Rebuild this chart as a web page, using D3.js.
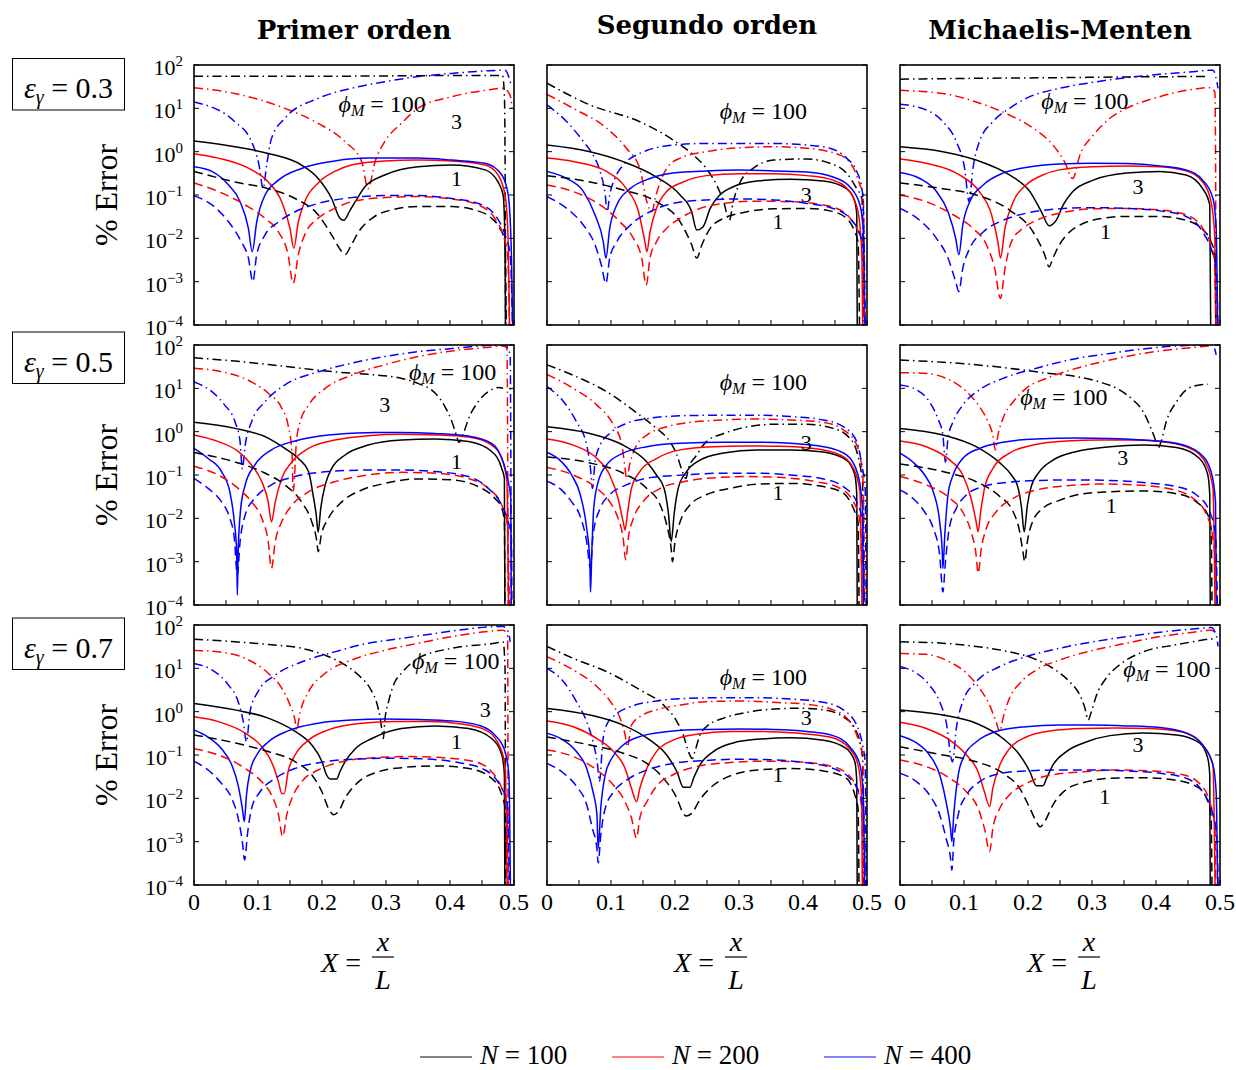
<!DOCTYPE html>
<html>
<head>
<meta charset="utf-8">
<script src="https://cdn.jsdelivr.net/npm/d3@7"></script>
<style>
  body { margin: 0; background: #fff; }
  text { font-family: "Liberation Serif", "Times New Roman", serif; fill: #000; }
</style>
</head>
<body>
<svg id="chart" width="1236" height="1070"></svg>
<script>
// ---- data ----
const colTitles = ["Primer orden", "Segundo orden", "Michaelis-Menten"];
const epsLabels = ["0.3", "0.5", "0.7"];
const nValues = [100, 200, 400];
const phiValues = [1, 3, 100];
const xTickLabels = [0, 0.1, 0.2, 0.3, 0.4, 0.5];
const xTickMarks = [0, 0.05, 0.1, 0.15, 0.2, 0.25, 0.3, 0.35, 0.4, 0.45, 0.5];
const yTickValues = [1e-4, 1e-3, 1e-2, 1e-1, 1, 10, 100];
const yTickExp = ["\u22124", "\u22123", "\u22122", "\u22121", "0", "1", "2"];

// series: [N, phi, points [X, %error]]
const primer03 = [
  [100, 100, [[0,55],[0.1,55],[0.2,55],[0.3,56],[0.4,57],[0.482,57],[0.485,20],[0.486,1],[0.4865,1e-2],[0.487,1e-5]]],
  [200, 100, [[0,30],[0.064,22],[0.142,10],[0.194,4.5],[0.236,1.7],[0.262,0.59],[0.272,0.14],[0.283,0.59],[0.298,1.7],[0.324,4.5],[0.35,10],[0.403,18.6],[0.455,26],[0.483,29],[0.494,20],[0.497,10]]],
  [400, 100, [[0,14],[0.064,4.9],[0.09,1.7],[0.1016,0.49],[0.108,0.14],[0.1135,0.49],[0.121,2.0],[0.142,5.9],[0.194,17],[0.246,29],[0.298,41],[0.35,54],[0.403,64],[0.455,73],[0.486,76],[0.496,32]]],
  [100, 3, [[0,1.76],[0.064,1.3],[0.116,0.91],[0.168,0.49],[0.194,0.24],[0.215,0.083],[0.228,0.029],[0.234,0.026],[0.244,0.045],[0.252,0.07],[0.267,0.155],[0.298,0.29],[0.35,0.45],[0.403,0.49],[0.455,0.38],[0.475,0.2],[0.483,0.1],[0.4859,0.0083],[0.487,1e-5]]],
  [200, 3, [[0,0.9],[0.038,0.71],[0.09,0.38],[0.116,0.2],[0.137,0.07],[0.15,0.017],[0.156,0.0059],[0.163,0.024],[0.173,0.07],[0.194,0.19],[0.22,0.35],[0.246,0.49],[0.298,0.61],[0.35,0.64],[0.403,0.61],[0.455,0.49],[0.475,0.29],[0.486,0.1],[0.491,0.0083],[0.494,1e-5]]],
  [400, 3, [[0,0.45],[0.028,0.35],[0.054,0.17],[0.072,0.07],[0.085,0.017],[0.091,0.0049],[0.098,0.024],[0.111,0.1],[0.132,0.22],[0.168,0.41],[0.22,0.61],[0.272,0.71],[0.35,0.71],[0.403,0.64],[0.455,0.54],[0.481,0.29],[0.491,0.1],[0.496,0.0042],[0.499,1e-5]]],
  [100, 1, [[0,0.35],[0.064,0.2],[0.116,0.14],[0.158,0.083],[0.194,0.035],[0.215,0.012],[0.231,0.0049],[0.236,0.0042],[0.246,0.0071],[0.257,0.014],[0.278,0.029],[0.298,0.041],[0.35,0.054],[0.403,0.054],[0.439,0.045],[0.465,0.029],[0.478,0.017],[0.486,0.0083],[0.4885,1e-5]]],
  [200, 1, [[0,0.19],[0.038,0.12],[0.08,0.059],[0.111,0.029],[0.132,0.014],[0.147,0.0042],[0.155,0.00091],[0.163,0.0042],[0.173,0.012],[0.194,0.029],[0.22,0.049],[0.246,0.07],[0.298,0.087],[0.35,0.092],[0.403,0.081],[0.444,0.059],[0.47,0.029],[0.483,0.012],[0.49,0.0042],[0.494,1e-5]]],
  [400, 1, [[0,0.096],[0.028,0.059],[0.054,0.024],[0.074,0.0083],[0.085,0.0035],[0.092,0.001],[0.098,0.0042],[0.111,0.012],[0.132,0.024],[0.158,0.041],[0.194,0.064],[0.246,0.087],[0.298,0.097],[0.35,0.097],[0.403,0.083],[0.444,0.064],[0.47,0.035],[0.486,0.012],[0.494,0.0042],[0.499,1e-5]]]
];

const segundo03 = [
  [100, 100, [[0,38],[0.067,12],[0.145,4.9],[0.197,1.86],[0.229,0.83],[0.249,0.41],[0.265,0.17],[0.276,0.07],[0.285,0.026],[0.291,0.07],[0.302,0.2],[0.322,0.41],[0.354,0.64],[0.406,0.68],[0.442,0.54],[0.468,0.32],[0.484,0.14],[0.492,0.083],[0.496,1e-5]]],
  [200, 100, [[0,21],[0.041,10],[0.093,3.5],[0.124,1.2],[0.145,0.41],[0.156,0.07],[0.164,0.041],[0.169,0.083],[0.187,0.41],[0.208,0.71],[0.249,1],[0.302,1.23],[0.354,1.3],[0.406,1.2],[0.458,0.83],[0.479,0.41],[0.489,0.17],[0.494,0.1],[0.497,1e-5]]],
  [400, 100, [[0,12],[0.031,4.9],[0.057,1.7],[0.072,0.83],[0.083,0.35],[0.091,0.1],[0.094,0.041],[0.098,0.1],[0.106,0.24],[0.119,0.49],[0.145,0.91],[0.197,1.42],[0.249,1.55],[0.302,1.55],[0.354,1.55],[0.406,1.42],[0.442,1.2],[0.468,0.71],[0.484,0.35],[0.492,0.14],[0.494,0.07],[0.498,1e-5]]],
  [100, 3, [[0,1.42],[0.067,1],[0.119,0.59],[0.171,0.26],[0.208,0.1],[0.226,0.041],[0.234,0.0155],[0.244,0.0186],[0.255,0.049],[0.27,0.1],[0.291,0.155],[0.328,0.21],[0.38,0.23],[0.432,0.21],[0.468,0.14],[0.481,0.07],[0.484,0.035],[0.485,1e-5]]],
  [200, 3, [[0,0.71],[0.041,0.59],[0.093,0.35],[0.124,0.14],[0.143,0.041],[0.153,0.0083],[0.156,0.0049],[0.161,0.014],[0.171,0.049],[0.187,0.12],[0.213,0.2],[0.249,0.28],[0.302,0.31],[0.354,0.31],[0.406,0.28],[0.447,0.22],[0.473,0.12],[0.486,0.041],[0.492,0.0042],[0.494,1e-5]]],
  [400, 3, [[0,0.35],[0.031,0.24],[0.057,0.12],[0.075,0.035],[0.088,0.0083],[0.092,0.0035],[0.098,0.017],[0.109,0.059],[0.13,0.14],[0.161,0.24],[0.197,0.32],[0.249,0.36],[0.302,0.38],[0.354,0.36],[0.406,0.34],[0.447,0.26],[0.473,0.155],[0.489,0.059],[0.494,0.017],[0.497,1e-5]]],
  [100, 1, [[0,0.28],[0.067,0.2],[0.119,0.13],[0.171,0.07],[0.208,0.024],[0.226,0.0071],[0.234,0.0035],[0.242,0.0071],[0.255,0.017],[0.276,0.029],[0.302,0.038],[0.354,0.048],[0.406,0.049],[0.442,0.043],[0.468,0.029],[0.481,0.014],[0.486,0.0083],[0.489,1e-5]]],
  [200, 1, [[0,0.17],[0.041,0.12],[0.083,0.059],[0.114,0.024],[0.135,0.01],[0.148,0.0035],[0.155,0.00083],[0.161,0.0035],[0.171,0.0083],[0.187,0.017],[0.208,0.029],[0.239,0.049],[0.276,0.064],[0.328,0.072],[0.38,0.07],[0.432,0.059],[0.463,0.041],[0.481,0.02],[0.492,0.0083],[0.497,1e-5]]],
  [400, 1, [[0,0.092],[0.031,0.049],[0.057,0.02],[0.075,0.0071],[0.085,0.0024],[0.092,0.00091],[0.098,0.0035],[0.109,0.0083],[0.13,0.02],[0.161,0.041],[0.197,0.064],[0.249,0.077],[0.302,0.081],[0.354,0.077],[0.406,0.064],[0.447,0.049],[0.473,0.029],[0.489,0.012],[0.494,0.0059],[0.498,1e-5]]]
];

const michaelis03 = [
  [100, 100, [[0,47],[0.1,49],[0.249,51],[0.35,53],[0.458,54],[0.481,54]]],
  [200, 100, [[0,26],[0.067,22],[0.119,14],[0.171,7],[0.208,3.5],[0.239,1.42],[0.257,0.59],[0.27,0.24],[0.281,0.83],[0.302,2.4],[0.328,5.9],[0.354,10],[0.406,18.6],[0.458,27.5],[0.484,30],[0.492,24],[0.493,1],[0.494,1e-5]]],
  [400, 100, [[0,12.4],[0.041,9.2],[0.067,4.9],[0.088,1.7],[0.101,0.41],[0.108,0.07],[0.114,0.41],[0.124,1.7],[0.145,4.9],[0.171,10],[0.197,17],[0.249,29],[0.302,40],[0.354,51],[0.406,61],[0.458,70],[0.489,76],[0.497,29]]],
  [100, 3, [[0,1.3],[0.067,1],[0.119,0.64],[0.171,0.29],[0.203,0.12],[0.221,0.041],[0.233,0.0195],[0.244,0.026],[0.255,0.059],[0.27,0.12],[0.302,0.22],[0.354,0.32],[0.406,0.35],[0.447,0.29],[0.473,0.14],[0.484,0.059],[0.486,1e-5]]],
  [200, 3, [[0,0.68],[0.041,0.54],[0.093,0.29],[0.124,0.12],[0.143,0.035],[0.153,0.0083],[0.157,0.0035],[0.164,0.017],[0.177,0.07],[0.197,0.17],[0.223,0.29],[0.249,0.38],[0.302,0.45],[0.354,0.47],[0.406,0.45],[0.447,0.36],[0.473,0.2],[0.486,0.07],[0.492,0.01],[0.494,1e-5]]],
  [400, 3, [[0,0.33],[0.031,0.24],[0.057,0.12],[0.075,0.041],[0.087,0.01],[0.092,0.0042],[0.098,0.02],[0.109,0.07],[0.13,0.17],[0.161,0.32],[0.197,0.43],[0.249,0.52],[0.302,0.54],[0.354,0.53],[0.406,0.47],[0.447,0.38],[0.473,0.22],[0.489,0.083],[0.494,0.017],[0.497,1e-5]]],
  [100, 1, [[0,0.19],[0.067,0.14],[0.119,0.1],[0.171,0.045],[0.208,0.014],[0.226,0.0042],[0.233,0.0022],[0.239,0.0035],[0.249,0.0071],[0.265,0.014],[0.286,0.022],[0.317,0.029],[0.354,0.032],[0.406,0.032],[0.447,0.026],[0.473,0.016],[0.486,0.0083],[0.492,0.0042],[0.494,1e-5]]],
  [200, 1, [[0,0.1],[0.041,0.07],[0.083,0.035],[0.114,0.017],[0.135,0.0071],[0.148,0.002],[0.157,0.00041],[0.164,0.002],[0.174,0.0083],[0.192,0.017],[0.213,0.026],[0.249,0.038],[0.302,0.048],[0.354,0.049],[0.406,0.045],[0.447,0.035],[0.473,0.017],[0.489,0.0049],[0.492,0.002],[0.495,1e-5]]],
  [400, 1, [[0,0.049],[0.031,0.026],[0.057,0.01],[0.075,0.0035],[0.087,0.001],[0.092,0.00059],[0.098,0.002],[0.109,0.0059],[0.13,0.014],[0.161,0.026],[0.197,0.038],[0.249,0.048],[0.302,0.051],[0.354,0.049],[0.406,0.043],[0.447,0.032],[0.473,0.014],[0.489,0.0042],[0.494,0.002],[0.498,1e-5]]]
];

const primer05 = [
  [100, 100, [[0,51],[0.064,42.5],[0.116,35.5],[0.168,29],[0.22,24],[0.272,21],[0.324,17],[0.35,13],[0.377,7.7],[0.392,3.8],[0.403,1.7],[0.41,0.83],[0.414,0.56],[0.421,0.91],[0.429,2],[0.444,4.9],[0.46,8.4],[0.476,10.4],[0.483,10]]],
  [200, 100, [[0,29],[0.038,25],[0.09,14],[0.116,7.7],[0.137,3.5],[0.147,1.42],[0.153,0.35],[0.155,0.041],[0.16,0.59],[0.166,1.7],[0.179,4.1],[0.205,10],[0.246,20],[0.298,35],[0.35,54],[0.403,73],[0.455,87],[0.483,95],[0.489,83],[0.49,1],[0.491,1e-5]]],
  [400, 100, [[0,14],[0.028,8.4],[0.048,4.1],[0.064,1.7],[0.072,0.59],[0.0755,0.14],[0.08,0.49],[0.09,1.7],[0.111,4.9],[0.142,12],[0.194,24],[0.246,38],[0.298,54],[0.35,70],[0.403,83],[0.455,97],[0.486,100],[0.494,59],[0.496,1e-5]]],
  [100, 3, [[0,1.64],[0.064,1.19],[0.116,0.71],[0.142,0.41],[0.163,0.24],[0.179,0.12],[0.186,0.035],[0.191,0.012],[0.194,0.0048],[0.198,0.017],[0.205,0.059],[0.215,0.14],[0.236,0.29],[0.272,0.49],[0.324,0.64],[0.377,0.68],[0.429,0.59],[0.465,0.35],[0.481,0.14],[0.485,0.083],[0.486,1e-5]]],
  [200, 3, [[0,0.84],[0.038,0.59],[0.069,0.35],[0.09,0.17],[0.106,0.07],[0.116,0.024],[0.121,0.0083],[0.127,0.024],[0.137,0.083],[0.153,0.2],[0.179,0.41],[0.22,0.64],[0.272,0.81],[0.324,0.87],[0.377,0.84],[0.429,0.75],[0.465,0.49],[0.481,0.24],[0.489,0.07],[0.492,1e-5]]],
  [400, 3, [[0,0.41],[0.022,0.24],[0.043,0.12],[0.056,0.041],[0.063,0.0083],[0.0667,0.0017],[0.0677,0.00017],[0.069,0.0017],[0.073,0.017],[0.08,0.059],[0.095,0.17],[0.121,0.38],[0.158,0.61],[0.21,0.84],[0.272,0.95],[0.324,0.96],[0.377,0.91],[0.429,0.79],[0.465,0.54],[0.483,0.2],[0.491,0.07],[0.495,0.029],[0.496,1e-5]]],
  [100, 1, [[0,0.33],[0.064,0.2],[0.106,0.12],[0.142,0.059],[0.168,0.024],[0.184,0.0083],[0.192,0.0029],[0.194,0.0017],[0.199,0.0042],[0.21,0.01],[0.231,0.024],[0.262,0.045],[0.298,0.064],[0.35,0.081],[0.403,0.077],[0.444,0.054],[0.47,0.029],[0.481,0.017],[0.485,0.0083],[0.486,1e-5]]],
  [200, 1, [[0,0.16],[0.038,0.1],[0.069,0.049],[0.09,0.024],[0.106,0.01],[0.116,0.0029],[0.121,0.0007],[0.127,0.0029],[0.137,0.0083],[0.153,0.02],[0.179,0.041],[0.22,0.07],[0.272,0.1],[0.324,0.115],[0.377,0.11],[0.429,0.083],[0.46,0.049],[0.481,0.02],[0.489,0.0083],[0.494,1e-5]]],
  [400, 1, [[0,0.084],[0.022,0.049],[0.043,0.024],[0.056,0.01],[0.063,0.0035],[0.0677,0.00049],[0.072,0.0029],[0.08,0.012],[0.095,0.029],[0.121,0.059],[0.158,0.092],[0.21,0.12],[0.272,0.13],[0.324,0.13],[0.377,0.12],[0.429,0.092],[0.46,0.049],[0.481,0.02],[0.491,0.0083],[0.496,0.0035],[0.497,1e-5]]]
];

const segundo05 = [
  [100, 100, [[0,35],[0.041,20],[0.093,8.4],[0.145,2.4],[0.171,1.19],[0.192,0.59],[0.203,0.29],[0.21,0.14],[0.217,0.083],[0.221,0.14],[0.234,0.29],[0.249,0.59],[0.276,0.91],[0.302,1.19],[0.354,1.48],[0.406,1.48],[0.447,1.19],[0.473,0.71],[0.484,0.35],[0.49,0.14],[0.493,0.07],[0.495,1e-5]]],
  [200, 100, [[0,21],[0.041,10],[0.078,4.1],[0.104,1.42],[0.117,0.49],[0.122,0.14],[0.124,0.083],[0.13,0.2],[0.14,0.49],[0.156,0.83],[0.187,1.3],[0.223,1.64],[0.276,1.86],[0.328,1.96],[0.38,1.86],[0.432,1.64],[0.463,1.1],[0.484,0.49],[0.492,0.14],[0.494,0.07],[0.497,1e-5]]],
  [400, 100, [[0,11],[0.026,4.9],[0.046,1.7],[0.062,0.49],[0.068,0.14],[0.071,0.049],[0.075,0.2],[0.083,0.49],[0.098,0.91],[0.124,1.55],[0.161,2.04],[0.213,2.34],[0.276,2.4],[0.328,2.4],[0.38,2.24],[0.432,1.86],[0.463,1.3],[0.484,0.59],[0.493,0.14],[0.497,0.059],[0.499,1e-5]]],
  [100, 3, [[0,1.3],[0.067,0.91],[0.119,0.49],[0.156,0.2],[0.171,0.1],[0.183,0.049],[0.19,0.012],[0.194,0.0029],[0.199,0.014],[0.205,0.049],[0.218,0.12],[0.239,0.22],[0.276,0.32],[0.328,0.38],[0.38,0.38],[0.432,0.34],[0.468,0.22],[0.481,0.1],[0.484,0.035],[0.485,1e-5]]],
  [200, 3, [[0,0.68],[0.041,0.49],[0.078,0.24],[0.098,0.1],[0.111,0.029],[0.119,0.0083],[0.122,0.0054],[0.126,0.014],[0.132,0.049],[0.145,0.12],[0.171,0.24],[0.208,0.38],[0.26,0.45],[0.312,0.47],[0.364,0.46],[0.416,0.41],[0.458,0.29],[0.479,0.14],[0.489,0.041],[0.493,1e-5]]],
  [400, 3, [[0,0.33],[0.02,0.22],[0.0385,0.1],[0.052,0.035],[0.062,0.0059],[0.067,0.001],[0.068,0.0002],[0.07,0.0017],[0.073,0.017],[0.08,0.07],[0.093,0.17],[0.119,0.32],[0.156,0.45],[0.208,0.54],[0.276,0.57],[0.328,0.57],[0.38,0.54],[0.432,0.45],[0.468,0.29],[0.486,0.1],[0.493,0.017],[0.495,1e-5]]],
  [100, 1, [[0,0.26],[0.067,0.19],[0.119,0.11],[0.156,0.049],[0.177,0.02],[0.187,0.0071],[0.194,0.002],[0.196,0.001],[0.2,0.0029],[0.208,0.0083],[0.223,0.02],[0.249,0.035],[0.286,0.049],[0.328,0.061],[0.38,0.064],[0.432,0.054],[0.463,0.038],[0.481,0.014],[0.486,0.0083],[0.488,1e-5]]],
  [200, 1, [[0,0.15],[0.041,0.1],[0.078,0.049],[0.098,0.024],[0.111,0.01],[0.119,0.0035],[0.123,0.0011],[0.127,0.0035],[0.135,0.01],[0.15,0.024],[0.177,0.049],[0.213,0.07],[0.265,0.087],[0.317,0.092],[0.369,0.087],[0.421,0.07],[0.458,0.049],[0.479,0.024],[0.489,0.0083],[0.494,1e-5]]],
  [400, 1, [[0,0.072],[0.02,0.049],[0.0385,0.024],[0.052,0.011],[0.062,0.0029],[0.068,0.0007],[0.072,0.0042],[0.083,0.017],[0.098,0.035],[0.124,0.059],[0.161,0.087],[0.213,0.1],[0.276,0.11],[0.328,0.11],[0.38,0.1],[0.432,0.081],[0.463,0.054],[0.484,0.024],[0.493,0.0083],[0.497,1e-5]]]
];

const michaelis05 = [
  [100, 100, [[0,45],[0.067,40],[0.119,35],[0.171,29],[0.223,23],[0.276,18.6],[0.312,14],[0.343,9.2],[0.364,5.4],[0.38,2.9],[0.39,1.42],[0.398,0.71],[0.403,0.41],[0.408,0.59],[0.416,1.7],[0.432,4.9],[0.447,9.2],[0.468,12],[0.481,12.4]]],
  [200, 100, [[0,23],[0.041,22],[0.078,15.5],[0.104,8.4],[0.124,3.8],[0.1375,1.7],[0.145,0.83],[0.149,0.38],[0.153,0.83],[0.161,2.04],[0.177,4.9],[0.197,10],[0.229,17],[0.276,29],[0.328,45],[0.38,64],[0.432,81],[0.473,92],[0.489,97]]],
  [400, 100, [[0,12],[0.026,9.2],[0.046,4.9],[0.059,2.04],[0.067,0.83],[0.071,0.2],[0.075,0.71],[0.083,1.7],[0.098,4.1],[0.124,9.2],[0.161,17],[0.213,29],[0.276,49],[0.328,64],[0.38,81],[0.432,95],[0.468,100],[0.489,100],[0.494,59]]],
  [100, 3, [[0,1.19],[0.067,0.84],[0.119,0.45],[0.156,0.19],[0.174,0.1],[0.184,0.054],[0.19,0.017],[0.194,0.0049],[0.199,0.02],[0.205,0.054],[0.218,0.12],[0.239,0.22],[0.276,0.35],[0.328,0.45],[0.38,0.49],[0.432,0.43],[0.468,0.24],[0.481,0.1],[0.484,0.035],[0.485,1e-5]]],
  [200, 3, [[0,0.61],[0.041,0.45],[0.078,0.22],[0.098,0.1],[0.111,0.029],[0.119,0.0083],[0.122,0.0049],[0.126,0.014],[0.132,0.049],[0.145,0.14],[0.171,0.32],[0.208,0.49],[0.26,0.61],[0.312,0.64],[0.364,0.64],[0.416,0.57],[0.458,0.38],[0.479,0.17],[0.489,0.049],[0.493,1e-5]]],
  [400, 3, [[0,0.32],[0.02,0.2],[0.0385,0.1],[0.052,0.041],[0.062,0.0083],[0.066,0.0017],[0.067,0.0007],[0.07,0.0042],[0.075,0.035],[0.083,0.1],[0.098,0.24],[0.124,0.41],[0.161,0.57],[0.213,0.68],[0.276,0.71],[0.328,0.7],[0.38,0.64],[0.432,0.54],[0.468,0.32],[0.486,0.12],[0.493,0.024],[0.495,1e-5]]],
  [100, 1, [[0,0.18],[0.067,0.12],[0.119,0.07],[0.156,0.032],[0.177,0.014],[0.187,0.0049],[0.192,0.0017],[0.195,0.001],[0.199,0.0029],[0.207,0.0083],[0.223,0.017],[0.249,0.026],[0.286,0.037],[0.328,0.041],[0.38,0.043],[0.432,0.037],[0.463,0.024],[0.481,0.012],[0.486,0.0059],[0.488,1e-5]]],
  [200, 1, [[0,0.092],[0.041,0.059],[0.078,0.029],[0.098,0.014],[0.111,0.0049],[0.119,0.0014],[0.122,0.00054],[0.127,0.002],[0.135,0.0059],[0.15,0.014],[0.177,0.029],[0.213,0.045],[0.265,0.057],[0.317,0.062],[0.369,0.059],[0.421,0.048],[0.458,0.029],[0.479,0.012],[0.489,0.0035],[0.493,0.0007],[0.495,1e-5]]],
  [400, 1, [[0,0.045],[0.02,0.029],[0.0385,0.014],[0.052,0.0059],[0.062,0.0014],[0.067,0.0002],[0.071,0.001],[0.077,0.0059],[0.088,0.017],[0.104,0.035],[0.13,0.054],[0.166,0.067],[0.218,0.075],[0.276,0.077],[0.328,0.075],[0.38,0.067],[0.432,0.054],[0.463,0.035],[0.484,0.014],[0.493,0.0042],[0.497,1e-5]]]
];

const primer07 = [
  [100, 100, [[0,47],[0.064,41],[0.116,35.5],[0.168,29],[0.205,20],[0.236,12],[0.257,7],[0.278,2.9],[0.285,1.7],[0.291,0.71],[0.296,0.24],[0.298,0.59],[0.304,1.7],[0.314,4.9],[0.324,7.7],[0.35,17],[0.403,29],[0.47,38],[0.483,41],[0.486,10],[0.487,1e-5]]],
  [200, 100, [[0,26],[0.038,24],[0.08,17],[0.116,7.7],[0.137,3.5],[0.15,1.42],[0.158,0.6],[0.16,0.38],[0.166,1],[0.179,2.9],[0.205,7.7],[0.246,15.5],[0.298,26],[0.35,38],[0.403,54],[0.455,70],[0.483,76],[0.49,59],[0.491,1e-5]]],
  [400, 100, [[0,13],[0.028,9.2],[0.054,4.1],[0.069,1.7],[0.077,0.59],[0.082,0.2],[0.0875,1],[0.1,2.9],[0.127,7],[0.168,14],[0.22,24],[0.272,38],[0.324,49],[0.377,64],[0.429,81],[0.47,92],[0.483,92],[0.491,70],[0.494,41]]],
  [100, 3, [[0,1.55],[0.064,1.1],[0.116,0.71],[0.158,0.35],[0.184,0.17],[0.2,0.07],[0.207,0.035],[0.2125,0.028],[0.223,0.028],[0.228,0.041],[0.236,0.07],[0.252,0.14],[0.278,0.24],[0.324,0.41],[0.377,0.47],[0.429,0.41],[0.465,0.24],[0.481,0.1],[0.485,0.035],[0.486,1e-5]]],
  [200, 3, [[0,0.76],[0.038,0.59],[0.08,0.32],[0.106,0.155],[0.121,0.07],[0.132,0.024],[0.137,0.013],[0.141,0.013],[0.147,0.041],[0.158,0.1],[0.179,0.22],[0.21,0.38],[0.262,0.54],[0.314,0.59],[0.366,0.59],[0.418,0.52],[0.455,0.38],[0.475,0.19],[0.486,0.059],[0.49,1e-5]]],
  [400, 3, [[0,0.38],[0.022,0.26],[0.043,0.14],[0.059,0.059],[0.069,0.02],[0.0755,0.0059],[0.0786,0.0029],[0.082,0.012],[0.0875,0.041],[0.098,0.1],[0.116,0.2],[0.147,0.36],[0.194,0.54],[0.246,0.64],[0.298,0.68],[0.35,0.66],[0.403,0.61],[0.444,0.49],[0.47,0.29],[0.486,0.12],[0.492,0.035],[0.495,1e-5]]],
  [100, 1, [[0,0.29],[0.064,0.19],[0.116,0.12],[0.158,0.07],[0.184,0.035],[0.2,0.014],[0.21,0.0059],[0.218,0.0042],[0.2255,0.0049],[0.236,0.01],[0.257,0.024],[0.288,0.041],[0.324,0.051],[0.377,0.056],[0.429,0.049],[0.465,0.029],[0.481,0.012],[0.486,0.0059],[0.487,1e-5]]],
  [200, 1, [[0,0.14],[0.038,0.1],[0.08,0.049],[0.106,0.024],[0.121,0.012],[0.132,0.0042],[0.1385,0.0013],[0.145,0.0042],[0.153,0.01],[0.168,0.024],[0.194,0.045],[0.231,0.07],[0.283,0.087],[0.335,0.092],[0.387,0.087],[0.439,0.07],[0.465,0.041],[0.481,0.017],[0.489,0.0071],[0.491,1e-5]]],
  [400, 1, [[0,0.072],[0.022,0.045],[0.043,0.022],[0.059,0.01],[0.069,0.0035],[0.0755,0.001],[0.079,0.00038],[0.084,0.0017],[0.09,0.0059],[0.103,0.014],[0.127,0.029],[0.158,0.049],[0.205,0.07],[0.257,0.081],[0.309,0.084],[0.361,0.081],[0.413,0.067],[0.455,0.045],[0.478,0.02],[0.489,0.0083],[0.494,1e-5]]]
];

const segundo07 = [
  [100, 100, [[0,32],[0.041,17],[0.093,8.4],[0.145,3.2],[0.182,1.42],[0.203,0.59],[0.213,0.29],[0.221,0.12],[0.227,0.083],[0.231,0.12],[0.239,0.29],[0.249,0.45],[0.276,0.71],[0.312,0.96],[0.354,1.15],[0.395,1.2],[0.432,1.1],[0.463,0.76],[0.481,0.41],[0.49,0.17],[0.493,0.083],[0.495,1e-5]]],
  [200, 100, [[0,18.6],[0.041,9.2],[0.078,3.8],[0.101,1.55],[0.114,0.71],[0.122,0.29],[0.1255,0.155],[0.132,0.49],[0.145,0.76],[0.171,1.1],[0.208,1.42],[0.249,1.7],[0.302,1.76],[0.354,1.64],[0.406,1.48],[0.447,1.1],[0.473,0.59],[0.486,0.24],[0.493,0.1],[0.496,1e-5]]],
  [400, 100, [[0,10],[0.026,4.9],[0.046,1.7],[0.062,0.59],[0.072,0.2],[0.079,0.059],[0.082,0.024],[0.087,0.2],[0.093,0.49],[0.106,0.83],[0.13,1.3],[0.171,1.76],[0.223,2.04],[0.276,2.1],[0.328,2.1],[0.38,1.96],[0.432,1.64],[0.463,1.1],[0.484,0.49],[0.493,0.17],[0.497,0.07],[0.499,1e-5]]],
  [100, 3, [[0,1.19],[0.067,0.84],[0.119,0.49],[0.161,0.22],[0.187,0.1],[0.203,0.041],[0.213,0.018],[0.2234,0.018],[0.229,0.029],[0.239,0.059],[0.26,0.12],[0.291,0.19],[0.328,0.23],[0.38,0.25],[0.432,0.22],[0.468,0.14],[0.481,0.07],[0.484,0.024],[0.485,1e-5]]],
  [200, 3, [[0,0.61],[0.041,0.45],[0.078,0.24],[0.104,0.12],[0.122,0.049],[0.132,0.017],[0.14,0.0083],[0.145,0.017],[0.156,0.049],[0.171,0.12],[0.197,0.22],[0.234,0.3],[0.286,0.35],[0.338,0.35],[0.39,0.32],[0.442,0.26],[0.473,0.14],[0.486,0.059],[0.492,0.0083],[0.493,1e-5]]],
  [400, 3, [[0,0.32],[0.026,0.22],[0.046,0.12],[0.062,0.049],[0.072,0.014],[0.078,0.0042],[0.08,0.0007],[0.084,0.0059],[0.091,0.035],[0.101,0.083],[0.119,0.17],[0.15,0.28],[0.197,0.36],[0.249,0.39],[0.302,0.4],[0.354,0.39],[0.406,0.35],[0.447,0.28],[0.473,0.155],[0.489,0.059],[0.494,0.014],[0.497,1e-5]]],
  [100, 1, [[0,0.26],[0.067,0.17],[0.119,0.11],[0.156,0.064],[0.182,0.029],[0.203,0.01],[0.213,0.0045],[0.218,0.0039],[0.226,0.0045],[0.239,0.0093],[0.26,0.02],[0.291,0.035],[0.328,0.045],[0.38,0.049],[0.432,0.043],[0.468,0.029],[0.481,0.012],[0.486,0.0059],[0.488,1e-5]]],
  [200, 1, [[0,0.13],[0.041,0.092],[0.078,0.045],[0.104,0.02],[0.122,0.0083],[0.132,0.0035],[0.14,0.0012],[0.145,0.0035],[0.156,0.0083],[0.171,0.019],[0.197,0.035],[0.234,0.054],[0.286,0.067],[0.338,0.072],[0.39,0.07],[0.442,0.056],[0.468,0.038],[0.484,0.017],[0.492,0.0059],[0.494,1e-5]]],
  [400, 1, [[0,0.064],[0.026,0.038],[0.046,0.019],[0.062,0.0071],[0.071,0.002],[0.078,0.0007],[0.08,0.00032],[0.084,0.0014],[0.091,0.0059],[0.104,0.014],[0.124,0.026],[0.156,0.045],[0.197,0.064],[0.249,0.075],[0.302,0.08],[0.354,0.077],[0.406,0.066],[0.447,0.049],[0.473,0.029],[0.489,0.012],[0.495,0.0042],[0.498,1e-5]]]
];

const michaelis07 = [
  [100, 100, [[0,41],[0.067,38],[0.119,32],[0.171,24],[0.208,17],[0.239,10],[0.265,4.9],[0.281,2.4],[0.289,1.2],[0.294,0.64],[0.299,1],[0.307,2.4],[0.322,5.9],[0.343,12],[0.38,24],[0.432,35],[0.473,45],[0.486,48],[0.492,41]]],
  [200, 100, [[0,22],[0.041,21],[0.078,14],[0.104,7.7],[0.124,3.5],[0.14,1.42],[0.15,0.59],[0.156,0.35],[0.161,0.71],[0.171,2.04],[0.187,4.5],[0.213,9.2],[0.249,15.5],[0.302,26],[0.354,38],[0.406,54],[0.458,68],[0.486,76],[0.494,64]]],
  [400, 100, [[0,11],[0.026,7.7],[0.046,4.1],[0.062,1.7],[0.072,0.59],[0.082,0.07],[0.088,0.41],[0.098,1.7],[0.119,4.9],[0.156,11],[0.197,18.6],[0.249,29],[0.302,41],[0.354,54],[0.406,68],[0.458,81],[0.486,87],[0.494,59],[0.497,32]]],
  [100, 3, [[0,1.1],[0.067,0.84],[0.119,0.54],[0.161,0.24],[0.187,0.1],[0.203,0.041],[0.213,0.0195],[0.2234,0.0195],[0.229,0.029],[0.239,0.059],[0.26,0.12],[0.291,0.2],[0.328,0.28],[0.38,0.32],[0.432,0.29],[0.468,0.19],[0.481,0.083],[0.484,0.035],[0.485,1e-5]]],
  [200, 3, [[0,0.57],[0.041,0.41],[0.078,0.22],[0.104,0.1],[0.122,0.041],[0.132,0.014],[0.14,0.0065],[0.145,0.017],[0.156,0.059],[0.171,0.14],[0.197,0.26],[0.234,0.36],[0.286,0.41],[0.338,0.42],[0.39,0.41],[0.442,0.34],[0.473,0.17],[0.489,0.059],[0.493,1e-5]]],
  [400, 3, [[0,0.28],[0.026,0.19],[0.046,0.1],[0.062,0.035],[0.072,0.0083],[0.079,0.002],[0.081,0.001],[0.084,0.0042],[0.091,0.035],[0.101,0.1],[0.119,0.2],[0.15,0.35],[0.197,0.45],[0.249,0.49],[0.302,0.49],[0.354,0.47],[0.406,0.43],[0.447,0.32],[0.473,0.17],[0.489,0.059],[0.494,0.014],[0.497,1e-5]]],
  [100, 1, [[0,0.155],[0.067,0.1],[0.119,0.07],[0.161,0.038],[0.187,0.017],[0.203,0.0059],[0.213,0.0029],[0.219,0.0022],[0.226,0.0029],[0.239,0.0071],[0.26,0.016],[0.291,0.024],[0.328,0.029],[0.38,0.03],[0.432,0.026],[0.468,0.017],[0.481,0.0083],[0.486,0.0042],[0.488,1e-5]]],
  [200, 1, [[0,0.077],[0.041,0.054],[0.078,0.029],[0.104,0.014],[0.122,0.0059],[0.132,0.002],[0.14,0.00059],[0.145,0.002],[0.156,0.0059],[0.171,0.012],[0.197,0.022],[0.234,0.034],[0.286,0.041],[0.338,0.045],[0.39,0.043],[0.442,0.035],[0.468,0.022],[0.484,0.0083],[0.492,0.0024],[0.494,1e-5]]],
  [400, 1, [[0,0.038],[0.026,0.024],[0.046,0.012],[0.062,0.0042],[0.072,0.0012],[0.079,0.00041],[0.081,0.00022],[0.084,0.001],[0.091,0.0042],[0.104,0.012],[0.124,0.024],[0.156,0.037],[0.197,0.043],[0.249,0.045],[0.302,0.045],[0.354,0.043],[0.406,0.038],[0.447,0.029],[0.473,0.014],[0.489,0.0042],[0.495,0.0014],[0.498,1e-5]]]
];

const panelData = [
  [primer03, segundo03, michaelis03],
  [primer05, segundo05, michaelis05],
  [primer07, segundo07, michaelis07]
];

// curve-family labels, in data coordinates [X, %error], row-major order
const phiLabelAt = [[0.294,12],[0.338,8.2],[0.289,14.2],[0.404,22],[0.338,13],[0.256,5.9],[0.409,14.2],[0.338,5.9],[0.417,9.1]];
const threeLabelAt = [[0.41,4.9],[0.405,0.1],[0.372,0.155],[0.298,4.1],[0.405,0.54],[0.348,0.25],[0.455,1.1],[0.405,0.7],[0.372,0.17]];
const oneLabelAt = [[0.41,0.23],[0.361,0.024],[0.321,0.014],[0.41,0.2],[0.361,0.038],[0.33,0.019],[0.41,0.2],[0.361,0.035],[0.32,0.011]];

// ---- layout ----
const colLeft = [194, 547, 900];
const rowTop = [65, 345, 625];
const pw = 320, ph = 260;
const colorByN = {100: "#000000", 200: "#ff0000", 400: "#0000ff"};
const dashByPhi = {1: "9,5", 3: null, 100: "9,4,1.5,4"};

const svg = d3.select("#chart");
svg.append("rect").attr("width", 1236).attr("height", 1070).attr("fill", "#fff");

const x = d3.scaleLinear().domain([0, 0.5]).range([0, pw]);
const y = d3.scaleLog().domain([1e-4, 100]).range([ph, 0]);
const line = d3.line()
  .x(d => x(d[0]))
  .y(d => y(Math.max(d[1], 1e-6)))
  .curve(d3.curveMonotoneX);

const defs = svg.append("defs");
defs.append("clipPath").attr("id", "plotclip")
  .append("rect").attr("x", 0).attr("y", 0).attr("width", pw).attr("height", ph);

panelData.forEach((row, ri) => {
  row.forEach((series, ci) => {
    const g = svg.append("g").attr("transform", `translate(${colLeft[ci]},${rowTop[ri]})`);
    const plot = g.append("g").attr("clip-path", "url(#plotclip)");

    series.forEach(([n, phi, pts]) => {
      plot.append("path")
        .attr("d", line(pts))
        .attr("fill", "none")
        .attr("stroke", colorByN[n])
        .attr("stroke-width", 1.5)
        .attr("stroke-dasharray", dashByPhi[phi])
        .attr("stroke-linejoin", "round");
    });

    // ticks (inward)
    g.selectAll(".xt").data(xTickMarks).enter().append("line")
      .attr("x1", d => x(d)).attr("x2", d => x(d))
      .attr("y1", ph).attr("y2", ph - 5)
      .attr("stroke", "#000").attr("stroke-width", 1);
    g.selectAll(".ytl").data(yTickValues).enter().append("line")
      .attr("x1", 0).attr("x2", 5)
      .attr("y1", d => y(d)).attr("y2", d => y(d))
      .attr("stroke", "#000").attr("stroke-width", 1);
    g.selectAll(".ytr").data(yTickValues).enter().append("line")
      .attr("x1", pw).attr("x2", pw - 5)
      .attr("y1", d => y(d)).attr("y2", d => y(d))
      .attr("stroke", "#000").attr("stroke-width", 1);

    g.append("rect").attr("width", pw).attr("height", ph)
      .attr("fill", "none").attr("stroke", "#000").attr("stroke-width", 1.6);

    // in-panel labels
    const k = ri * 3 + ci;
    const pl = phiLabelAt[k];
    const t = g.append("text")
      .attr("x", x(pl[0])).attr("y", y(pl[1]) + 7)
      .attr("text-anchor", "middle").style("font-size", "24px");
    t.append("tspan").style("font-style", "italic").text("\u03d5");
    t.append("tspan").style("font-style", "italic").style("font-size", "16px").attr("dy", 4).text("M");
    t.append("tspan").attr("dy", -4).text(" = 100");

    [[threeLabelAt[k], "3"], [oneLabelAt[k], "1"]].forEach(([p, s]) => {
      g.append("text")
        .attr("x", x(p[0])).attr("y", y(p[1]) + 7)
        .attr("text-anchor", "middle").style("font-size", "22px").text(s);
    });

    // x tick labels on bottom row
    if (ri === 2) {
      g.selectAll(".xl").data(xTickLabels).enter().append("text")
        .attr("x", d => x(d)).attr("y", ph + 25)
        .attr("text-anchor", "middle").style("font-size", "24px")
        .text(d => d);
    }

    // y tick labels on first column
    if (ci === 0) {
      yTickValues.forEach((v, i) => {
        const tt = g.append("text")
          .attr("x", -11).attr("y", y(v) + 10)
          .attr("text-anchor", "end").style("font-size", "22px");
        tt.append("tspan").text("10");
        tt.append("tspan").attr("dy", -9).style("font-size", "15px").text(yTickExp[i]);
      });
    }
  });
});

// column titles
colTitles.forEach((t, ci) => {
  const desc = /[gjpqy]/.test(t) ? 5 : 0;
  svg.append("text")
    .attr("x", colLeft[ci] + pw / 2).attr("y", 39 - desc)
    .attr("text-anchor", "middle")
    .style("font-family", "'DejaVu Serif', serif")
    .style("font-weight", "bold").style("font-size", "26px")
    .text(t);
});

// row labels: epsilon boxes and y-axis titles
const boxTop = [58.5, 332, 618];
epsLabels.forEach((e, ri) => {
  svg.append("rect")
    .attr("x", 12.5).attr("y", boxTop[ri]).attr("width", 112).attr("height", 51.5)
    .attr("fill", "none").attr("stroke", "#000").attr("stroke-width", 1);
  const t = svg.append("text")
    .attr("x", 68.5).attr("y", boxTop[ri] + 39.5)
    .attr("text-anchor", "middle").style("font-size", "30px");
  t.append("tspan").style("font-style", "italic").text("\u03b5");
  t.append("tspan").style("font-style", "italic").style("font-size", "20px").attr("dy", 6).text("\u03b3");
  t.append("tspan").attr("dy", -6).text(" = " + e);

  svg.append("text")
    .attr("transform", `translate(117,${rowTop[ri] + ph / 2}) rotate(-90)`)
    .attr("text-anchor", "middle").style("font-size", "32px")
    .text("% Error");
});

// x-axis titles  X = x / L
colLeft.forEach(cl => {
  const cx = cl + pw / 2;
  const t = svg.append("text").attr("x", cx + 7).attr("y", 972)
    .attr("text-anchor", "end").style("font-size", "28px");
  t.append("tspan").style("font-style", "italic").text("X");
  t.append("tspan").text(" =");
  svg.append("line").attr("x1", cx + 18).attr("x2", cx + 40)
    .attr("y1", 957).attr("y2", 957).attr("stroke", "#000").attr("stroke-width", 1.2);
  svg.append("text").attr("x", cx + 29).attr("y", 951)
    .attr("text-anchor", "middle").style("font-size", "28px").style("font-style", "italic").text("x");
  svg.append("text").attr("x", cx + 29).attr("y", 989)
    .attr("text-anchor", "middle").style("font-size", "28px").style("font-style", "italic").text("L");
});

// legend
const legendX = [420, 612, 824];
nValues.forEach((n, i) => {
  svg.append("line")
    .attr("x1", legendX[i]).attr("x2", legendX[i] + 52)
    .attr("y1", 1057).attr("y2", 1057)
    .attr("stroke", colorByN[n]).attr("stroke-opacity", 0.65).attr("stroke-width", 1.5);
  const t = svg.append("text").attr("x", legendX[i] + 60).attr("y", 1064)
    .style("font-size", "27px");
  t.append("tspan").style("font-style", "italic").text("N");
  t.append("tspan").text(" = " + n);
});
</script>
</body>
</html>
